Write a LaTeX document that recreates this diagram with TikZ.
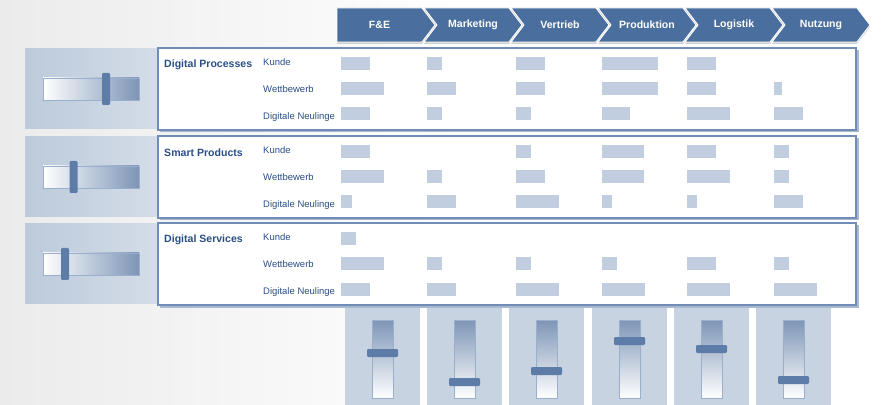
\documentclass[tikz,border=0pt]{standalone}
\usepackage{fontspec}
\setsansfont{Liberation Sans}
\definecolor{Backdrop}{HTML}{EBEBEB}
\definecolor{Steel}{HTML}{4A6F9E}
\definecolor{Frame}{HTML}{6F8DB6}
\definecolor{BarFill}{HTML}{C1CEDF}
\definecolor{PanelL}{HTML}{BCCADB}
\definecolor{PanelR}{HTML}{D4DDE8}
\definecolor{Column}{HTML}{C8D3E2}
\definecolor{Knob}{HTML}{5D7CA8}
\definecolor{TrackDark}{HTML}{7D95B6}
\definecolor{TextBlue}{HTML}{2A4F86}
\definecolor{Shadow}{HTML}{A9B8CC}
\newcommand\rating[3]{\ifnum#3>0 \fill[bar] (#1,#2) rectangle ++(#3,13);\fi}

\begin{document}
\begin{tikzpicture}[x=0.03cm,y=-0.03cm,every node/.style={font=\sffamily,text=TextBlue,inner sep=0pt},stage/.style={fill=Steel,draw=white,line width=0.8pt,line join=round},stagetext/.style={font=\sffamily\bfseries\fontsize{9}{10}\selectfont,text=white},rowbox/.style={fill=white,draw=Frame,line width=1pt},bar/.style={fill=BarFill},knob/.style={fill=Knob,rounded corners=1pt},track/.style={draw=Frame!70,line width=0.4pt},head/.style={font=\sffamily\bfseries\fontsize{9}{10}\selectfont,anchor=west},crit/.style={font=\sffamily\fontsize{8.1}{9}\selectfont,anchor=west}]
\useasboundingbox (0,0) rectangle (881,405);
\fill[white] (0,0) rectangle (881,405); \shade[left color=Backdrop,right color=white] (0,0) rectangle (460,405);

% value chain
\foreach \name [count=\i from 0] in {F\&E,Marketing,Vertrieb,Produktion,Logistik,Nutzung}{
  \pgfmathsetmacro\L{337+87*\i} \pgfmathsetmacro\n{\i>0 ? 13 : 0}
  \fill[black!18] (\L,10)--++(85,0)--++(13,17)--++(-13,17)--++(-85,0)--++(\n,-17)--cycle;
  \draw[stage] (\L,8)--++(85,0)--++(13,17)--++(-13,17)--++(-85,0)--++(\n,-17)--cycle;
  \node[stagetext] (stage\i) at (\L+42.5+\n/2,25) {\name};
}

% slider columns below the rows
\foreach \x/\k [count=\i] in {345/353,427/382,509/371,592/341,674/349,756/380}{
  \fill[Column] (\x,300) rectangle ++(75,105);
  \shade[track,top color=TrackDark,bottom color=white] (\x+27,320) rectangle ++(21,78);
  \fill[knob] (\x+22,\k-4) rectangle ++(31,8);
}

% rows
\foreach \top/\title/\pos [count=\r] in {48/Digital Processes/106,136/Smart Products/73.5,223/Digital Services/65}{
  \shade[left color=PanelL,right color=PanelR] (25,\top+1) rectangle (157,\top+81);
  \shade[track,left color=white,right color=TrackDark] (43,\top+30) rectangle (139,\top+52);
  \fill[knob] (\pos-4,\top+25) rectangle (\pos+4,\top+57);
  \fill[Shadow] (160,\top+2.5) rectangle (858.5,\top+84.5); \draw[rowbox] (158,\top) rectangle (856,\top+82);
  \node[head] (title\r) at (164,\top+17) {\title};
  \node[crit] (kunde\r) at (263,\top+14) {Kunde}; \node[crit] (wett\r) at (263,\top+41.5) {Wettbewerb}; \node[crit] (neu\r) at (263,\top+69) {Digitale Neulinge};
}

% assessment bars: column start / Kunde / Wettbewerb / Digitale Neulinge
\foreach \c/\a/\b/\d in {341/29/43/29,427/15/29/15,516/29/29/15,602/56/56/28,687/29/29/43,774/0/8/29}{
  \rating{\c}{57.5}{\a} \rating{\c}{82.5}{\b} \rating{\c}{107.5}{\d}}
\foreach \c/\a/\b/\d in {341/29/43/11,427/0/15/29,516/15/29/43,602/42/42/10,687/29/43/10,774/15/15/29}{
  \rating{\c}{145}{\a} \rating{\c}{170}{\b} \rating{\c}{195}{\d}}
\foreach \c/\a/\b/\d in {341/15/43/29,427/0/15/29,516/0/15/43,602/0/15/43,687/0/29/43,774/0/15/43}{
  \rating{\c}{232.5}{\a} \rating{\c}{257.5}{\b} \rating{\c}{283}{\d}}

\end{tikzpicture}
\end{document}
